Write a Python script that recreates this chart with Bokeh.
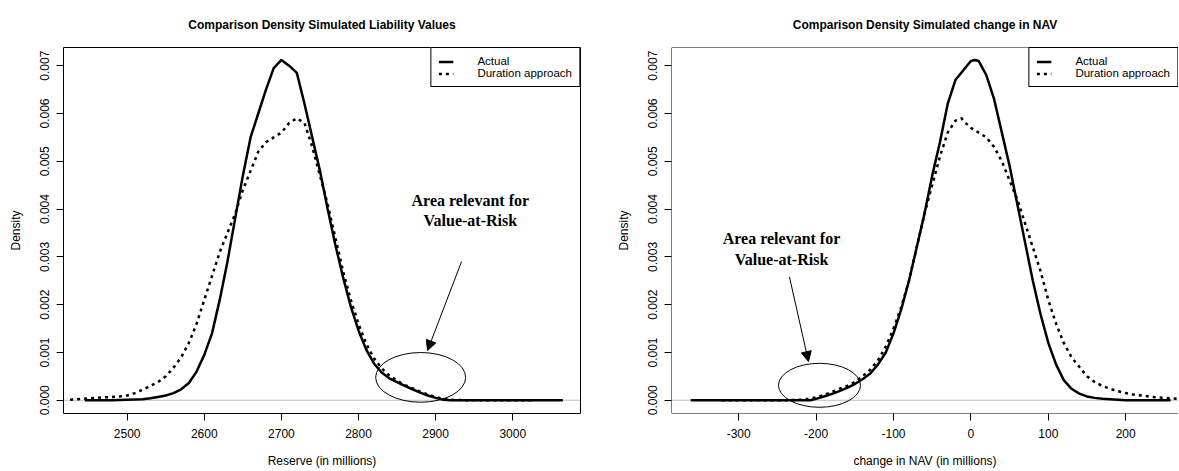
from bokeh.plotting import figure
from bokeh.models import (Range1d, FixedTicker, Span, Legend, LegendItem, Arrow,
                          NormalHead, Label, NumeralTickFormatter)
from bokeh.layouts import row
from bokeh.embed import file_html
from bokeh.resources import INLINE

# ---------------- data ----------------
# Left panel: Reserve (in millions)
reserve_actual_x = [2445, 2480, 2500, 2520, 2530, 2540, 2550, 2560, 2570, 2580, 2590, 2600,
                    2610, 2620, 2630, 2640, 2650, 2660, 2670, 2680, 2690, 2700, 2710, 2720,
                    2730, 2740, 2750, 2760, 2770, 2780, 2790, 2800, 2810, 2820, 2830, 2840,
                    2850, 2860, 2870, 2880, 2890, 2900, 2910, 2920, 2960, 3000, 3065]
reserve_actual_y = [0.0, 0.0, 0.00001, 0.00002, 0.00004, 0.00007, 0.0001, 0.00015, 0.00023,
                    0.00036, 0.0006, 0.00095, 0.0014, 0.0021, 0.0029, 0.0038, 0.0047, 0.0055,
                    0.006, 0.0065, 0.00695, 0.00712, 0.0070, 0.00685, 0.0062, 0.0055, 0.0048,
                    0.0040, 0.00325, 0.00257, 0.00196, 0.00146, 0.00106, 0.00077, 0.00058,
                    0.00046, 0.00038, 0.0003, 0.00023, 0.00016, 0.0001, 0.00005, 0.00001,
                    0.0, 0.0, 0.0, 0.0]
reserve_dur_x = [2426, 2450, 2470, 2490, 2500, 2510, 2520, 2530, 2540, 2550, 2560, 2570, 2580,
                 2590, 2600, 2610, 2620, 2630, 2640, 2650, 2660, 2670, 2680, 2690, 2700, 2710,
                 2720, 2730, 2740, 2750, 2760, 2770, 2780, 2790, 2800, 2810, 2820, 2830, 2840,
                 2850, 2860, 2870, 2880, 2890, 2900, 2910, 2920, 2940, 2980, 3025]
reserve_dur_y = [0.00001, 0.00004, 0.00006, 0.00008, 0.0001, 0.00015, 0.00022, 0.0003, 0.00038,
                 0.0005, 0.00068, 0.0009, 0.0012, 0.0016, 0.0021, 0.0026, 0.0031, 0.0035,
                 0.0039, 0.0044, 0.0048, 0.0052, 0.0054, 0.0055, 0.0056, 0.0058, 0.0059,
                 0.0058, 0.0053, 0.0047, 0.0041, 0.0034, 0.0027, 0.0021, 0.0016, 0.00118,
                 0.00088, 0.00067, 0.00052, 0.00041, 0.00032, 0.00025, 0.00018, 0.00012,
                 0.00007, 0.00003, 0.00001, 0.0, 0.0, 0.0]

# Right panel: change in NAV (in millions)
nav_actual_x = [-362, -300, -250, -207, -200, -190, -180, -170, -160, -150, -140, -130, -120,
                -110, -100, -90, -80, -70, -60, -50, -40, -30, -20, -10, 0, 5, 10, 20, 30,
                40, 50, 60, 70, 80, 90, 100, 110, 120, 130, 140, 150, 160, 170, 180, 190,
                200, 230, 258]
nav_actual_y = [0.0, 0.0, 0.0, 0.0, 0.00003, 0.00008, 0.00013, 0.00019, 0.00026, 0.00034,
                0.00044, 0.00056, 0.00075, 0.001, 0.0014, 0.0019, 0.0025, 0.0032, 0.0039,
                0.0047, 0.0054, 0.0062, 0.0067, 0.0069, 0.0071, 0.00712, 0.0071, 0.0068,
                0.0063, 0.0056, 0.0049, 0.0041, 0.0033, 0.0025, 0.0018, 0.0012, 0.00075,
                0.00042, 0.00024, 0.00014, 0.00008, 0.00005, 0.00003, 0.00002, 0.00001,
                0.0, 0.0, 0.0]
nav_dur_x = [-322, -280, -240, -220, -210, -200, -190, -180, -170, -160, -150, -140, -130,
             -120, -110, -100, -90, -80, -70, -60, -50, -40, -30, -20, -12, -10, 0, 10, 20,
             30, 40, 50, 60, 70, 80, 90, 100, 110, 120, 130, 140, 150, 160, 170, 180, 190,
             200, 210, 220, 240, 260, 277]
nav_dur_y = [0.0, 0.0, 0.0, 0.00001, 0.00003, 0.00006, 0.00011, 0.00017, 0.00024, 0.0003,
             0.00038, 0.0005, 0.00064, 0.00084, 0.00112, 0.0015, 0.00195, 0.0025, 0.0032,
             0.0039, 0.0045, 0.0051, 0.0056, 0.00585, 0.0059, 0.00585, 0.0057, 0.0056,
             0.0055, 0.0053, 0.005, 0.0046, 0.0042, 0.0037, 0.0032, 0.0027, 0.0021, 0.0016,
             0.0012, 0.0009, 0.0007, 0.0005, 0.00038, 0.0003, 0.00024, 0.00019, 0.00015,
             0.00012, 0.0001, 0.00006, 0.00004, 0.00002]

density_ticks = [0.0, 0.001, 0.002, 0.003, 0.004, 0.005, 0.006, 0.007]
reserve_ticks = [2500, 2600, 2700, 2800, 2900, 3000]
nav_ticks = [-300, -200, -100, 0, 100, 200]
nav_tick_labels = ["-300", "-200", "-100", "0", "100", "200"]

series_labels = ["Actual", "Duration approach"]
annotation_lines = ["Area relevant for", "Value-at-Risk"]

# annotation placement (data units)
left_note = dict(tx=2945, ty=[0.00419, 0.00377], arrow=(2933.6, 0.0029, 2889.5, 0.00104),
                 ell=(2880.6, 0.000479, 116.7, 0.00104))
right_note = dict(tx=-244.7, ty=[0.00339, 0.00295], arrow=(-234.4, 0.00258, -209.8, 0.00081),
                  ell=(-195.6, 0.000313, 105.9, 0.00092))

Y_RANGE = (-0.000277, 0.007381)
SANS = "Liberation Sans"


def make_panel(width, bl, br, xr, title, xlabel, xticks, xtick_labels,
               ax, ay, dx, dy, note, outline):
    p = figure(width=width, height=470, output_backend="svg", toolbar_location=None,
               x_range=Range1d(*xr), y_range=Range1d(*Y_RANGE),
               min_border_left=bl, min_border_right=br, min_border_top=47,
               min_border_bottom=56)
    p.background_fill_color = "white"
    p.border_fill_color = "white"
    p.grid.visible = False
    if outline:
        p.outline_line_color = "black"
        p.outline_line_alpha = 1
        p.outline_line_width = 1
    else:
        p.outline_line_color = None
        p.add_layout(Span(location=xr[0], dimension="height", line_color="black", line_width=1))
        p.add_layout(Span(location=Y_RANGE[1], dimension="width", line_color="black", line_width=1))
        p.add_layout(Span(location=Y_RANGE[0], dimension="width", line_color="black", line_width=1))

    p.title.text = title
    p.title.align = "center"
    p.title.vertical_align = "top"
    p.title.text_font = SANS
    p.title.text_font_size = "12px"
    p.title.text_font_style = "bold"
    p.title.text_color = "black"
    p.title.standoff = 27

    for axis in (p.xaxis[0], p.yaxis[0]):
        axis.axis_line_color = None
        axis.major_tick_in = 0
        axis.major_tick_out = 7
        axis.major_tick_line_color = "black"
        axis.minor_tick_line_color = None
        axis.major_label_text_font = SANS
        axis.major_label_text_font_size = "12px"
        axis.major_label_text_color = "black"
        axis.axis_label_text_font = SANS
        axis.axis_label_text_font_size = "12px"
        axis.axis_label_text_font_style = "normal"
        axis.axis_label_text_color = "black"

    p.xaxis.ticker = FixedTicker(ticks=xticks)
    p.xaxis.major_label_overrides = {t: s for t, s in zip(xticks, xtick_labels)}
    p.xaxis.axis_label = xlabel
    p.xaxis.major_label_standoff = 8
    p.xaxis.axis_label_standoff = 13

    p.yaxis.ticker = FixedTicker(ticks=density_ticks)
    p.yaxis.formatter = NumeralTickFormatter(format="0.000")
    p.yaxis.major_label_orientation = "vertical"
    p.yaxis.major_label_standoff = 7
    p.yaxis.axis_label = "Density"
    p.yaxis.axis_label_standoff = 15

    p.add_layout(Span(location=0, dimension="width", line_color="#bebebe",
                      line_width=1, level="underlay"))

    r_act = p.line(ax, ay, line_color="black", line_width=2.5)
    r_dur = p.line(dx, dy, line_color="black", line_width=2.5, line_dash="3 4")

    legend = Legend(items=[LegendItem(label=series_labels[0], renderers=[r_act]),
                           LegendItem(label=series_labels[1], renderers=[r_dur])],
                    location="top_right")
    legend.margin = 0
    legend.padding = 7
    legend.spacing = 0
    legend.label_height = 11
    legend.glyph_height = 11
    legend.glyph_width = 15
    legend.label_standoff = 24
    legend.label_text_font = SANS
    legend.label_text_font_size = "11.5px"
    legend.label_text_color = "black"
    legend.border_line_color = "black"
    legend.border_line_width = 1
    legend.border_line_alpha = 1
    legend.background_fill_color = "white"
    legend.background_fill_alpha = 1
    p.add_layout(legend)

    cx, cy, w, h = note["ell"]
    p.ellipse(x=[cx], y=[cy], width=w, height=h, fill_color=None,
              line_color="black", line_width=1)
    x0, y0, x1, y1 = note["arrow"]
    p.add_layout(Arrow(x_start=x0, y_start=y0, x_end=x1, y_end=y1, line_width=1,
                       line_color="black",
                       end=NormalHead(size=10, fill_color="black", line_color="black")))
    for txt, ty in zip(annotation_lines, note["ty"]):
        p.add_layout(Label(x=note["tx"], y=ty, text=txt, text_align="center",
                           text_baseline="middle", text_font="Liberation Serif",
                           text_font_style="bold", text_font_size="16px",
                           text_color="black"))
    return p


p1 = make_panel(600, 63, 20, (2417.4, 3087.9),
                "Comparison Density Simulated Liability Values", "Reserve (in millions)",
                reserve_ticks, [str(t) for t in reserve_ticks],
                reserve_actual_x, reserve_actual_y, reserve_dur_x, reserve_dur_y,
                left_note, True)
p2 = make_panel(578, 71, 0, (-386.8, 268.2),
                "Comparison Density Simulated change in NAV", "change in NAV (in millions)",
                nav_ticks, nav_tick_labels, nav_actual_x, nav_actual_y, nav_dur_x, nav_dur_y,
                right_note, False)

layout = row(p1, p2)
layout.spacing = 0
open("out.html", "w").write(file_html(layout, INLINE))
